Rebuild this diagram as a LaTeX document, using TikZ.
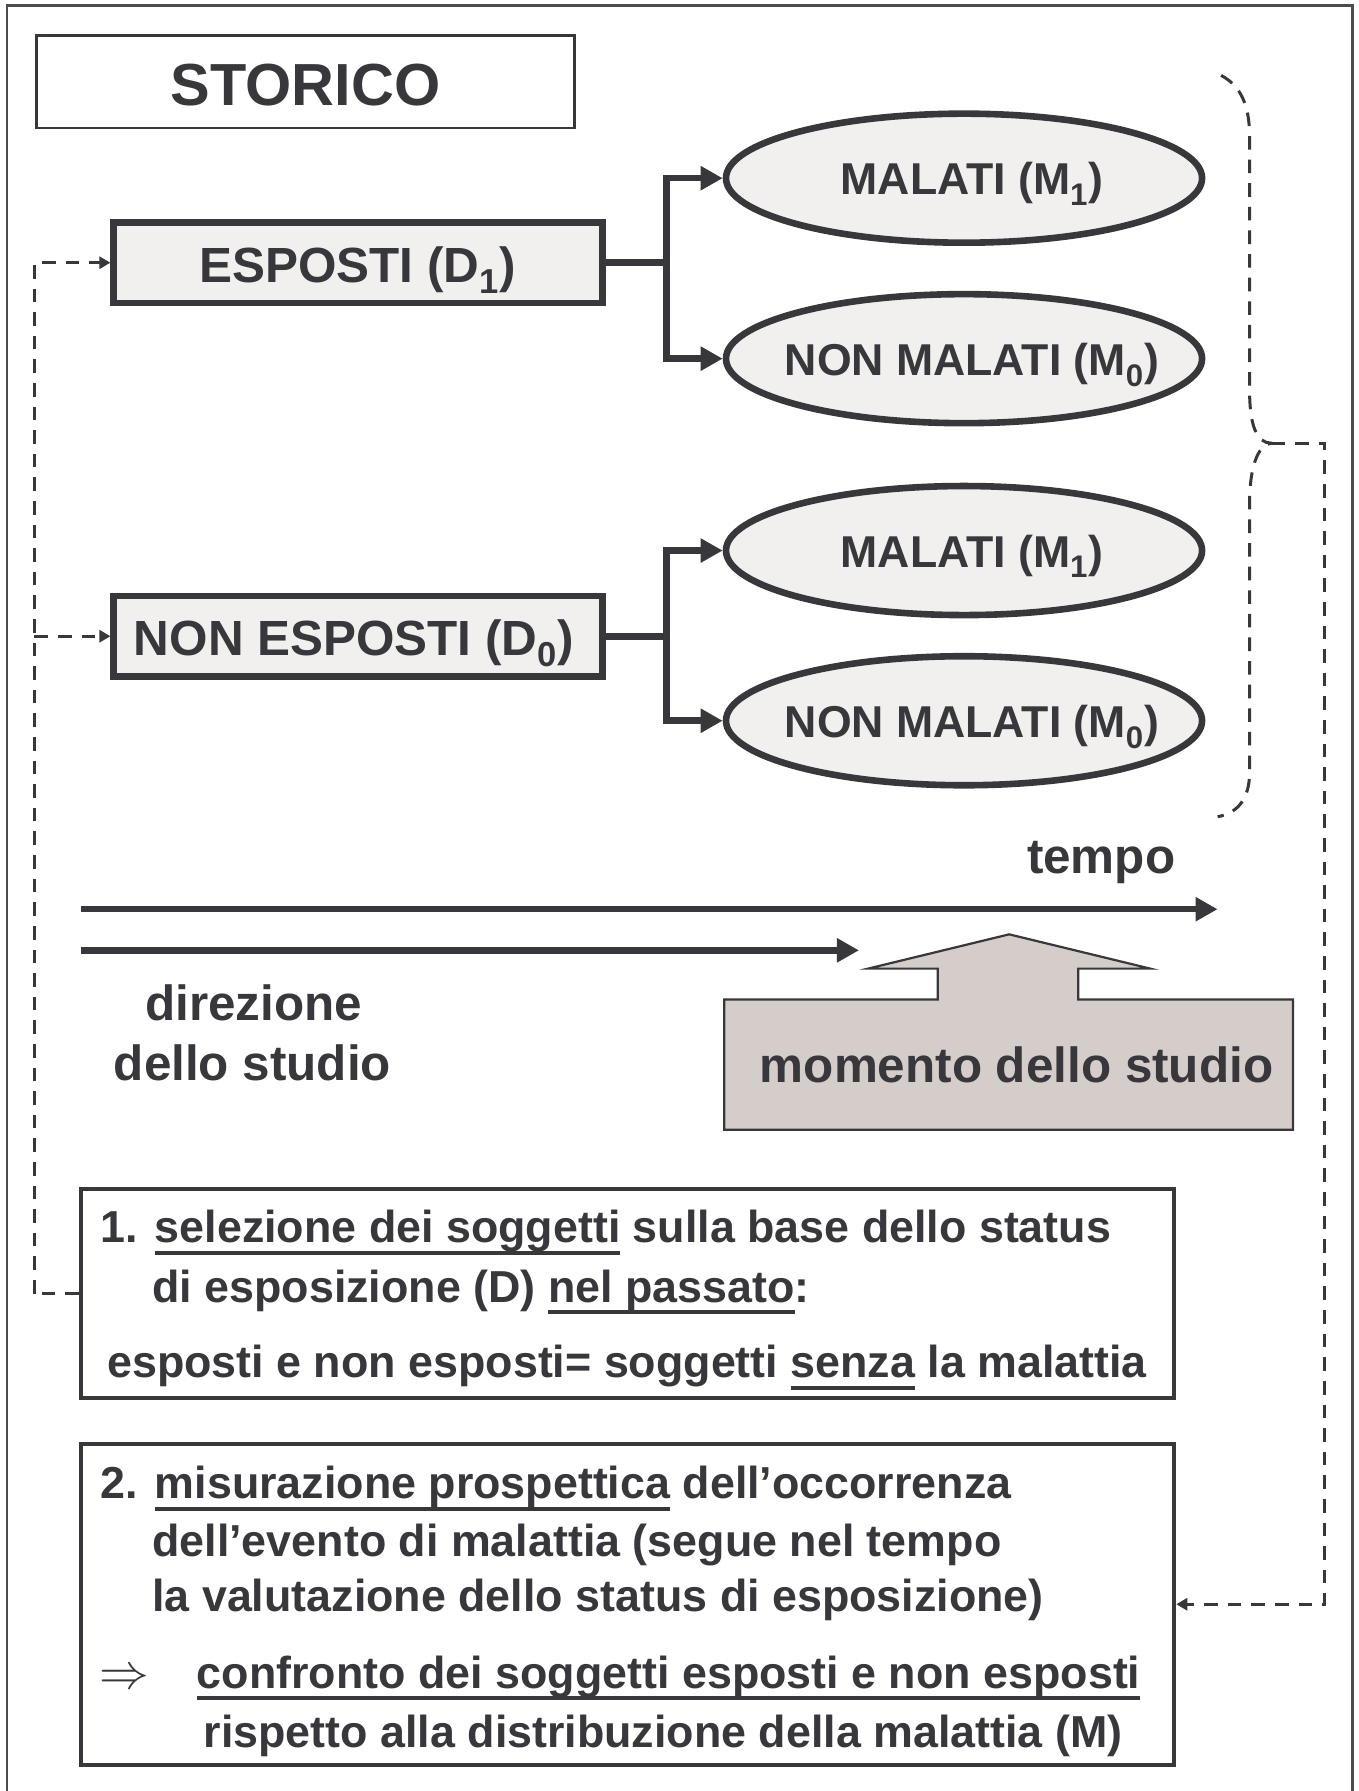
\documentclass[tikz,border=0pt]{standalone}
\usepackage{fontspec}
\setmainfont{Liberation Sans}
\usetikzlibrary{shapes.geometric,arrows.meta}
\definecolor{ink}{RGB}{56,55,60}
\definecolor{boxfill}{RGB}{241,240,238}
\definecolor{callfill}{RGB}{213,205,201}
\definecolor{framecol}{RGB}{75,75,80}
\newcommand\uln[1]{\setbox0\hbox{#1}\rlap{\rule[-0.27em]{\wd0}{0.09em}}\box0\relax}
\newcommand\subx[1]{\raisebox{-0.08em}{\textsubscript{#1}}}
\newcommand\fTitle{\fontsize{29.7}{34}\selectfont\bfseries}
\newcommand\fBox{\fontsize{24.7}{30}\selectfont\bfseries}
\newcommand\fEll{\fontsize{22.3}{27}\selectfont\bfseries}
\newcommand\fTxt{\fontsize{22.4}{27}\selectfont\bfseries}
\tikzset{
  titlebox/.style={draw=ink, line width=1.3pt, minimum width=268.9pt, minimum height=46.2pt, inner sep=0pt},
  bigbox/.style={draw=ink, line width=3.3pt, fill=boxfill, minimum width=244.3pt, minimum height=40.4pt, inner sep=0pt},
  ellbox/.style={ellipse, draw=ink, line width=3.3pt, fill=boxfill, minimum width=238pt, minimum height=64.5pt, inner sep=0pt},
  txtbox/.style={draw=ink, line width=2pt, minimum width=546.5pt, inner sep=0pt},
  connline/.style={draw=ink, line width=3.3pt},
  connarrow/.style={-{Triangle[length=11pt,width=11.5pt]}},
  timeline/.style={draw=ink, line width=3.2pt, -{Triangle[length=11pt,width=11.5pt]}},
  dashline/.style={draw=ink, line width=1.5pt, dash pattern=on 6.8pt off 5pt},
  dasharrow/.style={-{Triangle[length=5.5pt,width=6pt]}},
  lbl/.style={text=ink, inner sep=0pt, anchor=base},
  lblw/.style={text=ink, inner sep=0pt, anchor=base west}
}
\begin{document}
\begin{tikzpicture}[x=0.571pt,y=-0.571pt,line join=miter]
\useasboundingbox (0,0) rectangle (1189,1568);
% outer frame (bottom edge lies outside the picture)
\draw[framecol, line width=1.3pt] (6,1580) -- (6,5) -- (1184,5) -- (1184,1580);

% title
\node[titlebox] (st) at (267.5,71.5) {};
\node[lbl, font=\fTitle] (stt) at (267.5,92) {STORICO};

% exposure boxes
\node[bigbox] (e1) at (313.5,230) {};
\node[lbl, font=\fBox] (e1t) at (313,247) {ESPOSTI (D\subx{1})};
\node[bigbox] (e0) at (313.5,557) {};
\node[lbl, font=\fBox] (e0t) at (310,573.5) {NON ESPOSTI (D\subx{0})};

% outcome ellipses
\node[ellbox] (m11) at (844,156) {};
\node[lbl, font=\fEll] (m11t) at (851,170.5) {MALATI (M\subx{1})};
\node[ellbox] (m10) at (844,314) {};
\node[lbl, font=\fEll] (m10t) at (851,328.5) {NON MALATI (M\subx{0})};
\node[ellbox] (m01) at (844,482) {};
\node[lbl, font=\fEll] (m01t) at (851,496.5) {MALATI (M\subx{1})};
\node[ellbox] (m00) at (844,631) {};
\node[lbl, font=\fEll] (m00t) at (851,645.5) {NON MALATI (M\subx{0})};

% tree connectors
\draw[connline] (e1.east) -- ++(53,0) coordinate (j1);
\draw[connline,connarrow] (j1) |- (m11.west);
\draw[connline,connarrow] (j1) |- (m10.west);
\draw[connline] (e0.east) -- ++(53,0) coordinate (j0);
\draw[connline,connarrow] (j0) |- (m01.west);
\draw[connline,connarrow] (j0) |- (m00.west);

% dashed brace
\coordinate (bp) at (1113,388);
\draw[dashline] (1069,66) .. controls (1088,76) and (1094,95) .. (1094,120)
  -- (1094,342) .. controls (1094,372) and (1100,388) .. (bp)
  .. controls (1101,389) and (1094,410) .. (1094,440)
  -- (1094,676) .. controls (1094,700) and (1083,712) .. (1066,715);

% time arrows
\coordinate (t0) at (71,796);
\coordinate (t1) at (1066,796);
\draw[timeline] (t0) -- (t1);
\node[lbl, font=\fBox] (tempo) at (964,765) {tempo};
\coordinate (d0) at (71,832);
\coordinate (d1) at (752,832);
\draw[timeline] (d0) -- (d1);
\node[lbl, font=\fBox] (dir1) at (222,893) {direzione};
\node[lbl, font=\fBox] (dir2) at (221,946) {dello studio};

% study moment callout
\draw[fill=callfill, draw=ink, line width=1.1pt]
  (634,875) -- (821,875) -- (821,848) -- (760,848) -- (883.5,818)
  -- (1007,848) -- (944,848) -- (944,875) -- (1132,875) -- (1132,989)
  -- (634,989) -- cycle;
\node[lbl, font=\fBox] (mom) at (890,948) {momento dello studio};

% text box 1
\node[txtbox, minimum height=104.5pt] (b1) at (549.5,1132.5) {};
\node[lblw, font=\fTxt] (b1l1) at (88,1088) {1. \uln{selezione dei soggetti} sulla base dello status};
\node[lblw, font=\fTxt] (b1l2) at (133,1140) {di esposizione (D) \uln{nel passato}:};
\node[lbl, font=\fTxt] (b1l3) at (549,1206) {esposti e non esposti= soggetti \uln{senza} la malattia};

% text box 2
\node[txtbox, minimum height=160.5pt] (b2) at (549.5,1404.5) {};
\node[lblw, font=\fTxt] (b2l1) at (88,1312) {2. \uln{misurazione prospettica} dell’occorrenza};
\node[lblw, font=\fTxt] (b2l2) at (133,1363) {dell’evento di malattia (segue nel tempo};
\node[lblw, font=\fTxt] (b2l3) at (133,1411) {la valutazione dello status di esposizione)};
\node[lblw, font=\fontsize{23.5}{27}\selectfont] (imp) at (87,1478) {$\Rightarrow$};
\node[lblw, font=\fTxt] (b2l4) at (172,1478) {\uln{confronto dei soggetti esposti e non esposti}};
\node[lblw, font=\fTxt] (b2l5) at (178,1530) {rispetto alla distribuzione della malattia (M)};

% dashed feedback connectors
\draw[dashline] (b1.west) -- ++(-39,0) coordinate (lb);
\draw[dashline,dasharrow] (lb) |- (e1.west);
\draw[dashline,dasharrow] (lb |- e0.west) -- (e0.west);
\draw[dashline,dasharrow] (bp) -- (1160,388) |- (b2.east);
\end{tikzpicture}
\end{document}
